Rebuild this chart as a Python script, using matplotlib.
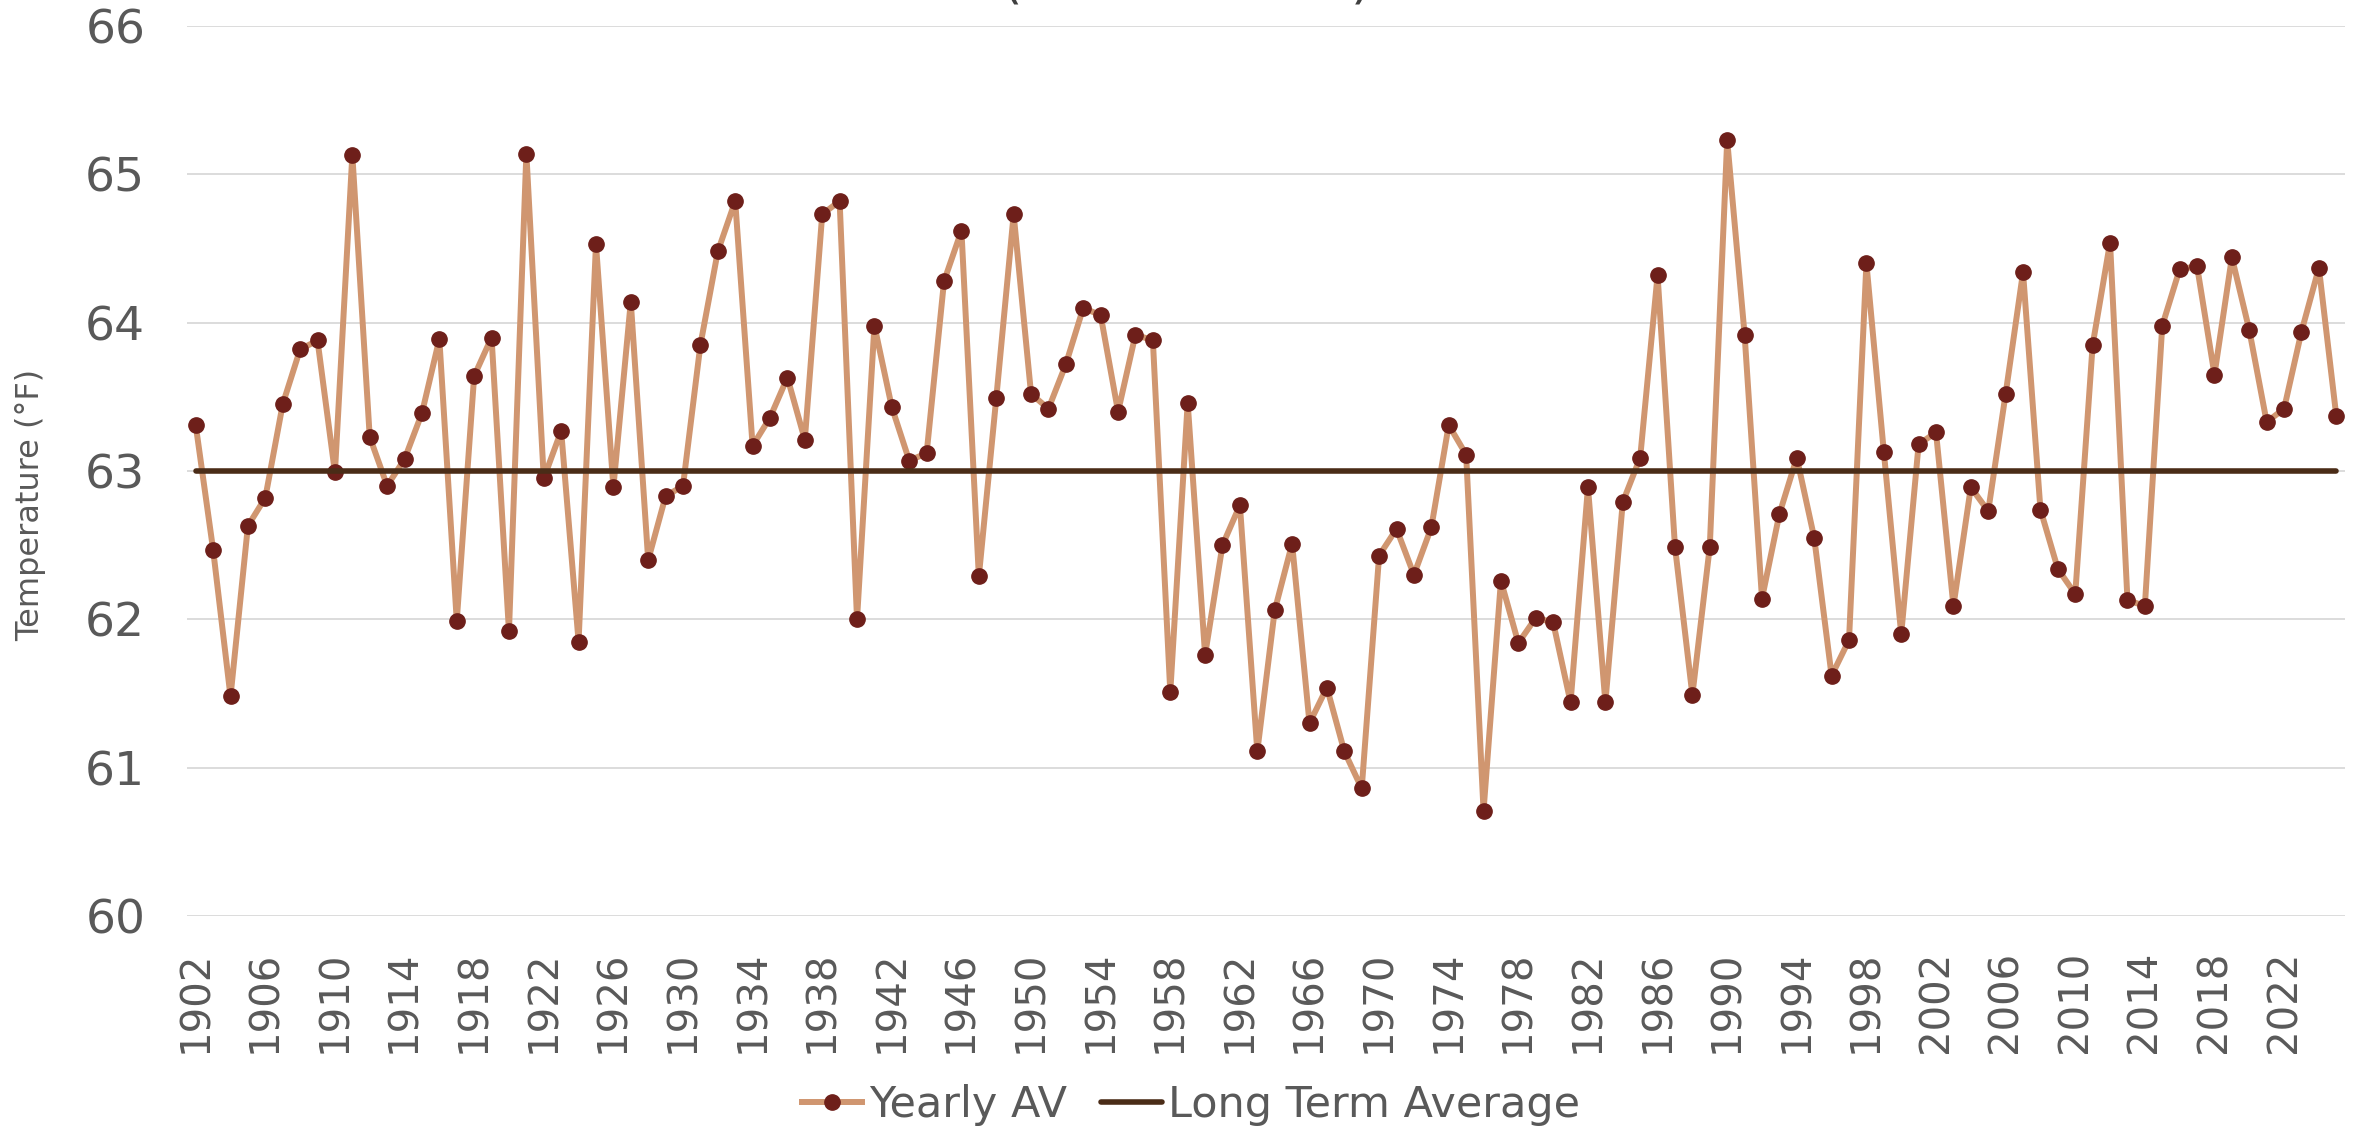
# Imports
import matplotlib
matplotlib.use('Agg')
import matplotlib.pyplot as plt

# Chart data: yearly average temperature (°F).
years = list(range(1902, 2026))
yearly_av = [
    63.31, 62.47, 61.48, 62.63, 62.82, 63.45, 63.82, 63.88, 62.99, 65.13,  # 1902-1911
    63.23, 62.90, 63.08, 63.39, 63.89, 61.99, 63.64, 63.90, 61.92, 65.14,  # 1912-1921
    62.95, 63.27, 61.85, 64.53, 62.89, 64.14, 62.40, 62.83, 62.90, 63.85,  # 1922-1931
    64.48, 64.82, 63.17, 63.36, 63.63, 63.21, 64.73, 64.82, 62.00, 63.98,  # 1932-1941
    63.43, 63.07, 63.12, 64.28, 64.62, 62.29, 63.49, 64.73, 63.52, 63.42,  # 1942-1951
    63.72, 64.10, 64.05, 63.40, 63.92, 63.88, 61.51, 63.46, 61.76, 62.50,  # 1952-1961
    62.77, 61.11, 62.06, 62.51, 61.30, 61.54, 61.11, 60.86, 62.43, 62.61,  # 1962-1971
    62.30, 62.62, 63.31, 63.11, 60.71, 62.26, 61.84, 62.01, 61.98, 61.44,  # 1972-1981
    62.89, 61.44, 62.79, 63.09, 64.32, 62.49, 61.49, 62.49, 65.23, 63.92,  # 1982-1991
    62.14, 62.71, 63.09, 62.55, 61.62, 61.86, 64.40, 63.13, 61.90, 63.18,  # 1992-2001
    63.26, 62.09, 62.89, 62.73, 63.52, 64.34, 62.74, 62.34, 62.17, 63.85,  # 2002-2011
    64.54, 62.13, 62.09, 63.98, 64.36, 64.38, 63.65, 64.44, 63.95, 63.33,  # 2012-2021
    63.42, 63.94, 64.37, 63.37,                                            # 2022-2025
]
long_term_avg = 63.0
y_ticks = [60, 61, 62, 63, 64, 65, 66]
label_step = 4  # every 4th year gets a label on the x axis

# Colours
LINE_COLOR = '#D09670'      # tan line of the yearly values
MARKER_COLOR = '#6E1F1A'    # dark red markers
AVG_COLOR = '#4A2C17'       # dark brown long term average
GRID_COLOR = '#D9D9D9'
TEXT_COLOR = '#595959'
TITLE_COLOR = '#404040'

plt.rcParams['font.family'] = ['DejaVu Sans']

# Figure is 2364 x 1131 px
fig = plt.figure(figsize=(23.64, 11.31), dpi=100)
W, H = 2364.0, 1131.0
ax = fig.add_axes([187 / W, 1 - 916 / H, (2345 - 187) / W, (916 - 26) / H])

xs = list(range(len(years)))
ax.plot(xs, yearly_av, color=LINE_COLOR, linewidth=4.3, marker='o', markersize=11,
        markerfacecolor=MARKER_COLOR, markeredgecolor=MARKER_COLOR, label='Yearly AV', zorder=3)
ax.plot(xs, [long_term_avg] * len(xs), color=AVG_COLOR, linewidth=4.0,
        solid_capstyle='round', label='Long Term Average', zorder=4)

# Axes styling (category axis, points between tick marks)
ax.set_xlim(-0.5, len(years) - 0.5)
ax.set_ylim(60, 66)
ax.set_yticks(y_ticks)
ax.set_xticks(xs[::label_step])
ax.set_xticklabels([str(y) for y in years[::label_step]], rotation=90)
ax.tick_params(axis='x', length=0, pad=25, labelsize=29, labelcolor=TEXT_COLOR)
ax.tick_params(axis='y', length=0, pad=30, labelsize=34, labelcolor=TEXT_COLOR)
ax.grid(axis='y', color=GRID_COLOR, linewidth=1.3)
ax.set_axisbelow(True)
for s in ax.spines.values():
    s.set_visible(False)

# Axis title on the left
fig.text(31 / W, 1 - 505 / H, 'Temperature (°F)', rotation=90, ha='center', va='center',
         fontsize=23, color=TEXT_COLOR)

# Chart title mostly cut off at the top edge (only the bottoms of the brackets show)
fig.text(1187 / W, 1 + 2 / H, '(1902 – 2025)', ha='center', va='baseline', fontsize=38, color=TITLE_COLOR)

# Legend at the bottom
fig.legend(loc='center', bbox_to_anchor=(1191 / W, 1 - 1105 / H), ncol=2, frameon=False,
           fontsize=31, labelcolor=TEXT_COLOR, handlelength=1.4, handletextpad=0.15,
           columnspacing=0.8, borderaxespad=0)

fig.savefig('out.png', dpi=100)
